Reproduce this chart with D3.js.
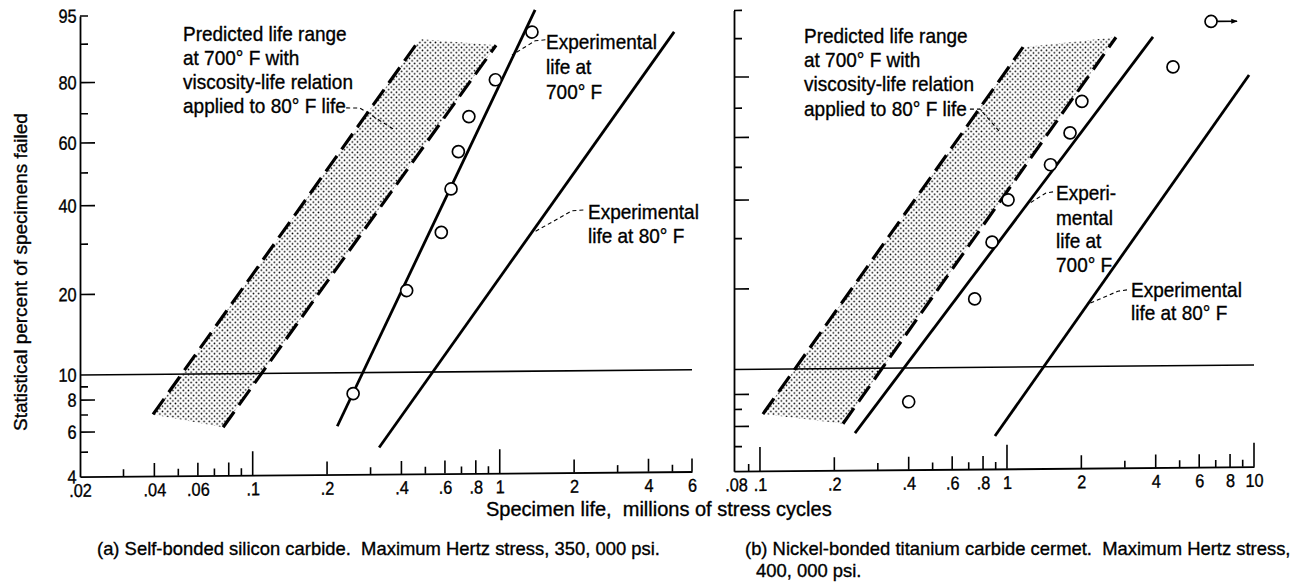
<!DOCTYPE html>
<html><head><meta charset="utf-8">
<script src="https://cdn.jsdelivr.net/npm/d3@7"></script>
<style>
body{margin:0;background:#fff}
svg{display:block;font-family:"Liberation Sans",Arial,sans-serif}
text{fill:#000;white-space:pre;stroke:#000;stroke-width:0.35px}
</style></head><body>
<svg id="c" width="1297" height="587"></svg>
<script>
// ---------------- data ----------------
// panel (a) self-bonded silicon carbide
const lifeA = [0.255, 0.42, 0.58, 0.635, 0.68, 0.75, 0.96, 1.35];
const pctA  = [8.3, 20.2, 32.1, 44.0, 56.0, 67.9, 79.8, 91.7];
const exp700A = [[0.22, 6.2], [1.39, 95.3]];
const exp80A  = [[0.325, 5.1], [5.08, 91.5]];
const bandLowA  = [[0.0395, 7.0], [0.476, 90.5]];
const bandHighA = [[0.0759, 6.2], [0.966, 89.0]];
const leadersA = [
  [[0.239, 71.2], [0.272, 71.1], [0.377, 63.5]],
  [[1.53, 90.1], [1.39, 89.9], [1.12, 86.6]],
  [[2.18, 37.6], [1.96, 37.4], [1.38, 32.0]]
];
// panel (b) nickel-bonded titanium carbide cermet
const lifeB = [0.40, 0.74, 0.87, 1.01, 1.50, 1.80, 2.01, 4.70, 6.70];
const pctB  = [7.4, 18.1, 28.7, 39.4, 50.0, 60.6, 71.3, 81.9, 92.6];
const runoutB = [false, false, false, false, false, false, false, false, true];
const exp700B = [[0.2424, 5.6], [3.90, 89.6]];
const exp80B  = [[0.894, 5.4], [9.55, 79.3]];
const bandLowB  = [[0.1028, 6.7], [1.161, 87.5]];
const bandHighB = [[0.2168, 6.1], [2.762, 89.6]];
const leadersB = [
  [[0.708, 69.0], [0.777, 69.0], [0.937, 61.1]],
  [[1.536, 41.6], [1.438, 41.3], [1.24, 38.5]],
  [[3.06, 19.3], [2.81, 19.1], [2.17, 17.3]]
];
// axis ticks
const xTicksA = [0.02, 0.04, 0.06, 0.1, 0.2, 0.4, 0.6, 0.8, 1, 2, 4, 6];
const xLabelsA = [".02", ".04", ".06", ".1", ".2", ".4", ".6", ".8", "1", "2", "4", "6"];
const xTallA = [0.1, 1];
const xMedA = [0.04, 0.06, 0.08, 0.2, 0.4, 0.6, 0.8, 2, 4, 6];
const xSmallA = [0.03, 0.05, 0.07, 0.09, 0.3, 0.5, 0.7, 0.9, 3, 5];
const xTicksB = [0.08, 0.1, 0.2, 0.4, 0.6, 0.8, 1, 2, 4, 6, 8, 10];
const xLabelsB = [".08", ".1", ".2", ".4", ".6", ".8", "1", "2", "4", "6", "8", "10"];
const xTallB = [0.1, 1, 10];
const xMedB = [0.2, 0.4, 0.6, 0.8, 2, 4, 6, 8];
const xSmallB = [0.09, 0.3, 0.5, 0.7, 0.9, 3, 5, 7, 9];
const yLabelsA = [95, 80, 60, 40, 20, 10, 8, 6, 4];
const yMajor = [80, 60, 40, 20, 8, 6];
const yMinor = [90, 70, 50, 30, 9, 7, 5];
const yMajorB = [80, 60, 40, 20, 8, 6];
const yMinorB = [90, 70, 50, 30, 7, 5];
const yTop = 95, yBottom = 4, yRef = 10;

// ---------------- scales ----------------
const W = p => Math.log(-Math.log(1 - p / 100));   // Weibull probability transform
const yW = d3.scaleLinear().domain([W(yBottom), W(yTop)]).range([476.7, 16]);
const y = p => yW(W(p));
const xA = d3.scaleLog().domain([0.02, 6]).range([80, 692]);
const xB = d3.scaleLog().domain([0.0785, 10]).range([734, 1254]);

const SKEW = Math.atan(0.0085) * 180 / Math.PI;

const svg = d3.select('#c');
const defs = svg.append('defs');
const pat = defs.append('pattern').attr('id', 'dots').attr('width', 5.2).attr('height', 5.2)
  .attr('patternUnits', 'userSpaceOnUse');
pat.append('circle').attr('cx', 1.3).attr('cy', 1.3).attr('r', 0.85).attr('fill', '#000');
pat.append('circle').attr('cx', 3.9).attr('cy', 3.9).attr('r', 0.85).attr('fill', '#000');
defs.append('marker').attr('id', 'arr').attr('viewBox', '0 0 10 10').attr('refX', 9).attr('refY', 5)
  .attr('markerWidth', 4).attr('markerHeight', 4).attr('orient', 'auto')
  .append('path').attr('d', 'M0,1L10,5L0,9Z').attr('fill', '#000');

const fig = svg.append('g').attr('transform', `translate(80,0) skewY(${-SKEW}) translate(-80,0)`);

function panel(c) {
  const x = c.x, g = fig.append('g');
  const x0 = x.range()[0], x1 = x.range()[1];
  const line = d3.line().x(d => x(d[0])).y(d => y(d[1]));
  // band fill
  g.append('path').attr('d', line([c.bandLow[0], c.bandLow[1], c.bandHigh[1], c.bandHigh[0]]) + 'Z')
    .attr('fill', 'url(#dots)').attr('stroke', 'none');
  // 10 % reference line
  g.append('line').attr('x1', x0).attr('x2', x1).attr('y1', y(yRef)).attr('y2', y(yRef))
    .attr('stroke', '#000').attr('stroke-width', 1.6);
  // x axis
  const ax = g.append('g').attr('transform', `translate(0,${y(yBottom)})`)
    .call(d3.axisBottom(x).tickValues(c.xTicks).tickFormat((d, i) => c.xLabels[i])
      .tickSize(0).tickPadding(7).tickSizeOuter(0));
  ax.attr('font-size', null).attr('font-family', null);
  ax.select('.domain').attr('stroke-width', 1.8);
  ax.selectAll('text').attr('font-size', 18.5).attr('transform', 'scale(0.88,1)');
  const xt = [...c.tall.map(v => [v, 24]), ...c.med.map(v => [v, 13]), ...c.small.map(v => [v, 7])];
  g.selectAll('line.xt').data(xt).join('line').attr('class', 'xt')
    .attr('x1', d => x(d[0])).attr('x2', d => x(d[0]))
    .attr('y1', y(yBottom)).attr('y2', d => y(yBottom) - d[1])
    .attr('stroke', '#000').attr('stroke-width', 1.6);
  // y axis
  const ay = g.append('g').attr('transform', `translate(${x0},0)`)
    .call(d3.axisLeft(yW).tickValues(c.yLabels.map(W)).tickFormat((d, i) => c.yLabels[i])
      .tickSize(0).tickPadding(4).tickSizeOuter(0));
  ay.attr('font-size', null).attr('font-family', null);
  ay.select('.domain').attr('stroke-width', 1.8);
  ay.selectAll('text').attr('font-size', 19).attr('transform', 'scale(0.86,1)');
  const yt = [[yTop, 8], ...c.yMajor.map(v => [v, 15]), ...c.yMinor.map(v => [v, 8])];
  g.selectAll('line.yt').data(yt).join('line').attr('class', 'yt')
    .attr('x1', x0).attr('x2', d => x0 + d[1])
    .attr('y1', d => y(d[0])).attr('y2', d => y(d[0]))
    .attr('stroke', '#000').attr('stroke-width', 1.6);
  // dashed band boundaries
  [c.bandLow, c.bandHigh].forEach(b => g.append('path').attr('d', line(b))
    .attr('fill', 'none').attr('stroke', '#000').attr('stroke-width', 3.2)
    .attr('stroke-dasharray', '19,8'));
  // experimental lines
  [c.exp700, c.exp80].forEach(b => g.append('path').attr('d', line(b))
    .attr('fill', 'none').attr('stroke', '#000').attr('stroke-width', 2.8));
  // leaders
  c.leaders.forEach(b => g.append('path').attr('d', line(b))
    .attr('fill', 'none').attr('stroke', '#000').attr('stroke-width', 1.1)
    .attr('stroke-dasharray', '4,3'));
  // data points
  const pts = c.life.map((l, i) => ({ l, p: c.pct[i], r: c.runout ? c.runout[i] : false }));
  g.selectAll('line.run').data(pts.filter(d => d.r)).join('line').attr('class', 'run')
    .attr('x1', d => x(d.l) + 6).attr('x2', d => x(d.l) + 26)
    .attr('y1', d => y(d.p)).attr('y2', d => y(d.p))
    .attr('stroke', '#000').attr('stroke-width', 1.6).attr('marker-end', 'url(#arr)');
  g.selectAll('circle.pt').data(pts).join('circle').attr('class', 'pt')
    .attr('cx', d => x(d.l)).attr('cy', d => y(d.p)).attr('r', 6)
    .attr('fill', '#fff').attr('stroke', '#000').attr('stroke-width', 1.7);
}

panel({ x: xA, life: lifeA, pct: pctA, exp700: exp700A, exp80: exp80A,
  bandLow: bandLowA, bandHigh: bandHighA, leaders: leadersA,
  xTicks: xTicksA, xLabels: xLabelsA, tall: xTallA, med: xMedA, small: xSmallA,
  yLabels: yLabelsA, yMajor: yMajor, yMinor: yMinor });
panel({ x: xB, life: lifeB, pct: pctB, runout: runoutB, exp700: exp700B, exp80: exp80B,
  bandLow: bandLowB, bandHigh: bandHighB, leaders: leadersB,
  xTicks: xTicksB, xLabels: xLabelsB, tall: xTallB, med: xMedB, small: xSmallB,
  yLabels: [], yMajor: yMajorB, yMinor: yMinorB });

// ---------------- text ----------------
const notes = [
  { x: 183, y: [41, 65, 89, 113], t: ["Predicted life range", "at 700° F with", "viscosity-life relation", "applied to 80° F life"] },
  { x: 546, y: [49, 74, 99], t: ["Experimental", "life at", "700° F"] },
  { x: 588, y: [219, 243], t: ["Experimental", "life at 80° F"] },
  { x: 804, y: [43, 67, 91, 116], t: ["Predicted life range", "at 700° F with", "viscosity-life relation", "applied to 80° F life"] },
  { x: 1056, y: [200, 225, 248, 272], t: ["Experi-", "mental", "life at", "700° F"] },
  { x: 1131, y: [297, 320], t: ["Experimental", "life at 80° F"] }
];
notes.forEach(n => n.t.forEach((s, i) => svg.append('text')
  .attr('transform', `translate(${n.x},${n.y[i]}) scale(0.95,1)`)
  .attr('font-size', 20).text(s)));

svg.append('text').attr('transform', 'translate(486,516)').attr('font-size', 20)
  .text('Specimen life,  millions of stress cycles');
svg.append('text').attr('transform', 'translate(27,272) rotate(-90)').attr('font-size', 19)
  .attr('text-anchor', 'middle').text('Statistical percent of specimens failed');
svg.append('text').attr('transform', 'translate(97,555) scale(0.97,1)').attr('font-size', 19)
  .text('(a) Self-bonded silicon carbide.  Maximum Hertz stress, 350, 000 psi.');
svg.append('text').attr('transform', 'translate(745,555) scale(0.97,1)').attr('font-size', 19)
  .text('(b) Nickel-bonded titanium carbide cermet.  Maximum Hertz stress,');
svg.append('text').attr('transform', 'translate(756,577) scale(0.97,1)').attr('font-size', 19)
  .text('400, 000 psi.');
</script></body></html>
